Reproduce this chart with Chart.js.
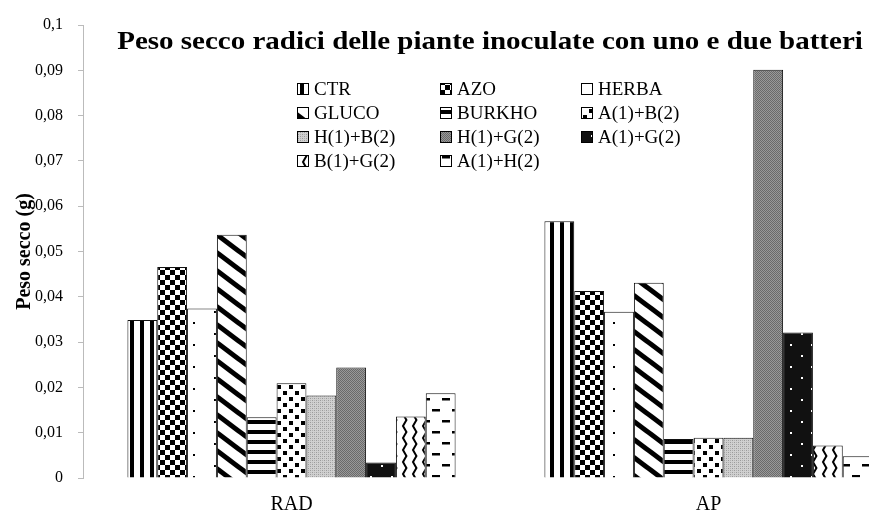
<!DOCTYPE html>
<html><head><meta charset="utf-8">
<script src="https://cdn.jsdelivr.net/npm/chart.js@4/dist/chart.umd.min.js"></script>
<style>
html,body{margin:0;padding:0;background:#fff;overflow:hidden;width:869px;height:521px}
#wrap{position:relative;width:980px;height:521px}
</style></head><body>
<div id="wrap"><canvas id="c" width="980" height="521"></canvas></div>
<script>
// ---- data ----
const categories = ['RAD', 'AP'];
const seriesNames = ['CTR', 'AZO', 'HERBA', 'GLUCO', 'BURKHO', 'A(1)+B(2)', 'H(1)+B(2)', 'H(1)+G(2)', 'A(1)+G(2)', 'B(1)+G(2)', 'A(1)+H(2)'];
const CTR    = [0.0349, 0.0567];
const AZO    = [0.0466, 0.0413];
const HERBA  = [0.0374, 0.0367];
const GLUCO  = [0.0537, 0.0431];
const BURKHO = [0.0134, 0.0086];
const A1B2   = [0.0209, 0.0089];
const H1B2   = [0.0182, 0.0089];
const H1G2   = [0.0244, 0.0901];
const A1G2   = [0.0034, 0.0321];
const B1G2   = [0.0136, 0.0072];
const A1H2   = [0.0187, 0.0048];
const seriesValues = [CTR, AZO, HERBA, GLUCO, BURKHO, A1B2, H1B2, H1G2, A1G2, B1G2, A1H2];
const yTickLabels = ['0', '0,01', '0,02', '0,03', '0,04', '0,05', '0,06', '0,07', '0,08', '0,09', '0,1'];
const chartTitle = 'Peso secco radici delle piante inoculate con uno e due batteri';
const yAxisTitle = 'Peso secco (g)';

// ---- patterns ----
const canvas = document.getElementById('c');
const ctx = canvas.getContext('2d');
function tile(w, h, bg, draw) {
  const c = document.createElement('canvas'); c.width = w; c.height = h;
  const g = c.getContext('2d'); g.fillStyle = bg; g.fillRect(0, 0, w, h);
  g.fillStyle = '#000'; g.strokeStyle = '#000';
  draw(g, w, h);
  return ctx.createPattern(c, 'repeat');
}
const patterns = [
  tile(10, 4, '#fff', g => { g.fillRect(0, 0, 4, 4); }),
  tile(10, 10, '#fff', g => { g.fillRect(0, 0, 5, 5); g.fillRect(5, 5, 5, 5); }),
  tile(42, 22, '#fff', g => { g.fillRect(4, 3, 2, 2); g.fillRect(25, 14, 2, 2); }),
  tile(24, 18, '#fff', (g, w, h) => {
    g.lineWidth = 5;
    for (let k = -1; k <= 1; k++) { g.beginPath(); g.moveTo(k * w - w, -h); g.lineTo(k * w + 2 * w, 2 * h); g.stroke(); }
  }),
  tile(4, 10, '#fff', g => { g.fillRect(0, 0, 4, 4); }),
  tile(12, 12, '#fff', g => { g.fillRect(1, 1, 4, 4); g.fillRect(7, 7, 4, 4); }),
  tile(4, 4, '#d0d0d0', g => { g.fillStyle = '#9a9a9a'; g.fillRect(0, 0, 1, 1); g.fillRect(2, 2, 1, 1); g.fillStyle = '#b0b0b0'; g.fillRect(2, 0, 1, 1); g.fillRect(0, 2, 1, 1); }),
  tile(2, 2, '#999', g => { g.fillStyle = '#6a6a6a'; g.fillRect(0, 0, 1, 1); g.fillRect(1, 1, 1, 1); }),
  tile(21, 22, '#111', g => { g.fillStyle = '#fff'; g.fillRect(3, 3, 2, 2); g.fillRect(13, 14, 2, 2); }),
  tile(10, 12, '#fff', g => { g.lineWidth = 2; g.beginPath(); g.moveTo(7, -1); g.lineTo(3, 6); g.lineTo(7, 13); g.stroke(); }),
  tile(20, 22, '#fff', g => { g.fillRect(2, 2, 8, 2.5); g.fillRect(12, 13, 8, 2.5); })
];

// ---- plugins ----
const titlePlugin = {
  id: 'customTitle',
  afterDraw(chart) {
    const c = chart.ctx; c.save();
    c.font = 'bold 26px "Liberation Serif"'; c.fillStyle = '#000';
    c.textAlign = 'center'; c.textBaseline = 'middle';
    c.translate(490, 42); c.scale(1.115, 1);
    c.fillText(chartTitle, 0, 0);
    c.restore();
  }
};
const gridLegend = {
  id: 'gridLegend',
  afterDraw(chart) {
    const c = chart.ctx; c.save();
    const colX = [297, 440, 581];
    const rowY = [89, 113, 137, 161];
    c.font = '19px "Liberation Serif"'; c.textBaseline = 'middle'; c.textAlign = 'left';
    chart.data.datasets.forEach((ds, i) => {
      const x = colX[i % 3], y = rowY[Math.floor(i / 3)];
      c.fillStyle = ds.backgroundColor; c.fillRect(x, y - 6, 12, 12);
      c.strokeStyle = '#000'; c.lineWidth = 1; c.strokeRect(x + 0.5, y - 5.5, 11, 11);
      c.fillStyle = '#000'; c.fillText(ds.label, x + 17, y + 1);
    });
    c.restore();
  }
};

new Chart(canvas, {
  type: 'bar',
  data: {
    labels: categories,
    datasets: seriesNames.map((n, i) => ({
      label: n, data: seriesValues[i], backgroundColor: patterns[i],
      borderColor: '#111', borderWidth: 1
    }))
  },
  options: {
    responsive: false, animation: false, devicePixelRatio: 1,
    layout: { padding: { top: 25, right: 63, left: 0, bottom: 0 } },
    datasets: { bar: { categoryPercentage: 0.787, barPercentage: 1.0 } },
    plugins: { legend: { display: false }, title: { display: false }, tooltip: { enabled: false } },
    scales: {
      x: {
        grid: { display: false, drawTicks: false }, border: { display: false },
        ticks: { color: '#000', font: { family: 'Liberation Serif', size: 20 }, padding: 15 },
        afterFit(s) { s.height = 43; }
      },
      y: {
        min: 0, max: 0.1,
        grid: { display: true, drawOnChartArea: false, drawTicks: true, tickLength: 5, color: '#bbb' },
        border: { display: true, color: '#bbb', dash: [2, 2] },
        ticks: { stepSize: 0.01, color: '#000', font: { family: 'Liberation Serif', size: 16 }, padding: 15,
                 callback: (v, i) => yTickLabels[i] },
        title: { display: true, text: yAxisTitle, color: '#000', font: { family: 'Liberation Serif', size: 20, weight: 'bold' }, padding: { top: 13, bottom: 0 } },
        afterFit(s) { s.width = 83; }
      }
    }
  },
  plugins: [titlePlugin, gridLegend]
});
</script>
</body></html>
